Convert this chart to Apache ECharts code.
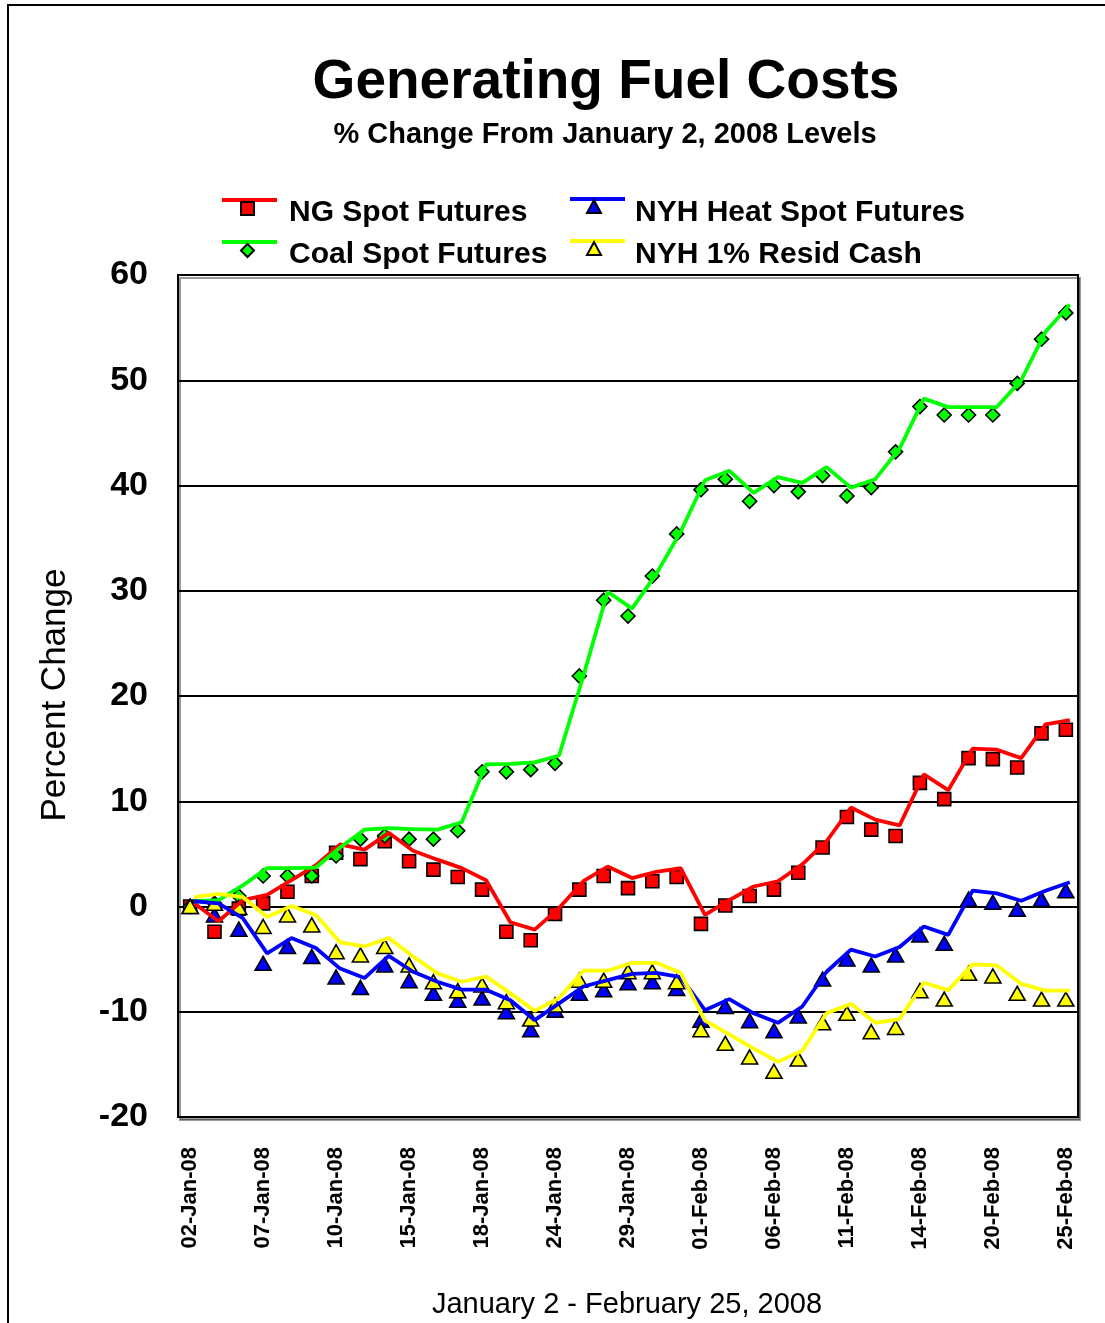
<!DOCTYPE html>
<html>
<head>
<meta charset="utf-8">
<title>Generating Fuel Costs</title>
<script src="https://cdn.jsdelivr.net/npm/echarts@6/dist/echarts.min.js"></script>
<style>
html, body { margin: 0; padding: 0; background: #fff; }
#chart { width: 1105px; height: 1323px; }
</style>
</head>
<body>
<div id="chart"></div>
<script>
// trading days, 02-Jan-08 .. 25-Feb-08
var days = ['02-Jan-08','03-Jan-08','04-Jan-08','07-Jan-08','08-Jan-08','09-Jan-08','10-Jan-08','11-Jan-08',
    '14-Jan-08','15-Jan-08','16-Jan-08','17-Jan-08','18-Jan-08','22-Jan-08','23-Jan-08','24-Jan-08','25-Jan-08',
    '28-Jan-08','29-Jan-08','30-Jan-08','31-Jan-08','01-Feb-08','04-Feb-08','05-Feb-08','06-Feb-08','07-Feb-08',
    '08-Feb-08','11-Feb-08','12-Feb-08','13-Feb-08','14-Feb-08','15-Feb-08','19-Feb-08','20-Feb-08','21-Feb-08',
    '22-Feb-08','25-Feb-08'];

// % change, markers
var ngPoints = [0, -2.4, -0.2, 0.3, 1.4, 2.9, 5.1, 4.5, 6.2, 4.3, 3.5, 2.8, 1.6, -2.4, -3.2, -0.7, 1.6, 2.9, 1.75, 2.4,
    2.8, -1.65, 0.1, 1.0, 1.6, 3.2, 5.6, 8.5, 7.3, 6.7, 11.75, 10.2, 14.1, 14.0, 13.2, 16.45, 16.8];
var coalPoints = [0, 0.3, 1.0, 2.9, 2.9, 2.9, 4.8, 6.4, 6.7, 6.4, 6.4, 7.2, 12.8, 12.8, 13.0, 13.6, 21.9, 29.1, 27.6, 31.4,
    35.4, 39.6, 40.6, 38.5, 40.0, 39.4, 40.95, 39.0, 39.8, 43.2, 47.5, 46.7, 46.7, 46.7, 49.7, 53.9, 56.4];
var heatPoints = [0, -0.8, -2.15, -5.4, -3.8, -4.75, -6.7, -7.7, -5.55, -7.05, -8.25, -8.9, -8.7, -10.0, -11.7, -9.85, -8.25,
    -7.9, -7.25, -7.15, -7.8, -10.8, -9.5, -10.85, -11.8, -10.4, -6.9, -5.0, -5.55, -4.6, -2.7, -3.5, 0.7, 0.4, -0.25, 0.7, 1.5];
var residPoints = [0, 0.3, -0.1, -1.9, -0.8, -1.75, -4.3, -4.6, -3.8, -5.55, -7.15, -8.0, -7.45, -9.05, -10.7, -9.35, -7.0,
    -7.0, -6.2, -6.2, -7.15, -11.7, -13.0, -14.3, -15.65, -14.5, -11.05, -10.15, -11.9, -11.5, -8.0, -8.8, -6.35, -6.6, -8.25, -8.8, -8.8];

// % change, lines
var ngLine = [0.3, -1.4, 0.6, 1.1, 2.5, 3.9, 5.9, 5.4, 7.0, 5.3, 4.45, 3.65, 2.5, -1.5, -2.2, -0.15, 2.4, 3.8, 2.7, 3.3,
    3.65, -0.8, 0.6, 1.9, 2.4, 4.0, 6.2, 9.4, 8.25, 7.7, 12.55, 11.05, 15.0, 14.9, 14.1, 17.3, 17.7];
var coalLine = [0.5, 0.6, 2.0, 3.65, 3.65, 3.7, 5.6, 7.3, 7.45, 7.35, 7.3, 8.0, 13.5, 13.55, 13.7, 14.35, 21.9, 29.9, 28.3, 31.6,
    35.6, 40.5, 41.4, 39.3, 40.8, 40.25, 41.75, 39.8, 40.6, 43.5, 48.25, 47.45, 47.45, 47.45, 50.0, 54.6, 57.2];
var heatLine = [0.5, 0.3, -1.1, -4.45, -3.0, -3.95, -5.9, -6.8, -4.7, -6.2, -7.15, -7.9, -7.9, -8.9, -10.8, -9.2, -7.6, -7.0,
    -6.4, -6.3, -6.7, -9.85, -8.8, -10.15, -11.05, -9.5, -6.2, -4.1, -4.75, -3.85, -1.9, -2.7, 1.5, 1.25, 0.55, 1.5, 2.3];
var residLine = [0.9, 1.2, 0.9, -1.0, 0.05, -0.8, -3.4, -3.8, -3.0, -4.75, -6.35, -7.15, -6.65, -8.25, -9.9, -8.7, -6.1, -6.1,
    -5.35, -5.35, -6.3, -10.85, -12.15, -13.5, -14.75, -13.7, -10.15, -9.25, -11.05, -10.7, -7.25, -7.95, -5.5, -5.6, -7.35, -8.0, -8.0];

var seriesNames = ['NG Spot Futures', 'Coal Spot Futures', 'NYH Heat Spot Futures', 'NYH 1% Resid Cash'];
var seriesColors = ['#ff0000', '#00ff00', '#0000ff', '#ffff00'];

var FONT = '"Liberation Sans", Arial, Helvetica, sans-serif';

var chartDom = document.getElementById('chart');
var myChart = echarts.init(chartDom); // 初始化

function lineSeries(name, color, data) {
    return {
        type: 'line', name: name, xAxisIndex: 1, yAxisIndex: 1, data: data,
        symbol: 'none', lineStyle: { color: color, width: 3.8 }, itemStyle: { color: color },
        animation: false
    };
}
function markSeries(name, color, symbol, size, data) {
    return {
        type: 'scatter', name: name, data: data, symbol: symbol, symbolSize: size,
        itemStyle: { color: color, borderColor: '#000', borderWidth: 1.6, opacity: 1 },
        animation: false
    };
}
// legend pieces: the original puts the line above, the marker below and the text lower right,
// so each piece is its own small legend
function iconLegend(name, left, top, w, h, icon) {
    var l = {
        data: [name], left: left, top: top, padding: 0, itemWidth: w, itemHeight: h, selectedMode: false,
        formatter: function () { return ''; },
        textStyle: { fontSize: 4 }
    };
    if (icon) l.icon = icon;
    return l;
}
function textLegend(name, left, top) {
    return {
        data: [name], left: left, top: top, padding: 0, icon: 'rect', itemWidth: 1, itemHeight: 1,
        itemStyle: { opacity: 0 }, selectedMode: false,
        textStyle: { fontFamily: FONT, fontSize: 30, fontWeight: 'bold', color: '#000' }
    };
}

var option = {
    backgroundColor: '#fff',
    animation: false,
    graphic: [
        { type: 'rect', shape: { x: 8, y: 5, width: 1200, height: 1400 }, style: { fill: 'none', stroke: '#000', lineWidth: 2 } },
        { type: 'text', x: 606, y: 83, style: { text: 'Generating Fuel Costs', font: 'bold 55px ' + FONT, fill: '#000', align: 'center', verticalAlign: 'middle', textAlign: 'center', textVerticalAlign: 'middle' } },
        { type: 'text', x: 605, y: 135, style: { text: '% Change From January 2, 2008 Levels', font: 'bold 29px ' + FONT, fill: '#000', align: 'center', verticalAlign: 'middle', textAlign: 'center', textVerticalAlign: 'middle' } },
        { type: 'text', x: 55, y: 695, rotation: Math.PI / 2, style: { text: 'Percent Change', font: '35px ' + FONT, fill: '#000', align: 'center', verticalAlign: 'middle', textAlign: 'center', textVerticalAlign: 'middle' } },
        { type: 'text', x: 627, y: 1305, style: { text: 'January 2 - February 25, 2008', font: '29px ' + FONT, fill: '#000', align: 'center', verticalAlign: 'middle', textAlign: 'center', textVerticalAlign: 'middle' } }
    ],
    legend: [
        iconLegend(seriesNames[0], 222, 198, 55, 4, 'rect'),
        iconLegend(seriesNames[1], 222, 240, 55, 4, 'rect'),
        iconLegend(seriesNames[2], 570, 197, 55, 4, 'rect'),
        iconLegend(seriesNames[3], 570, 239, 55, 4, 'rect'),
        iconLegend('ngMarks', 240, 201, 13, 13),
        iconLegend('coalMarks', 240, 243, 13, 13),
        iconLegend('heatMarks', 586, 199, 14, 13),
        iconLegend('residMarks', 586, 241, 14, 13),
        textLegend(seriesNames[0], 283, 198),
        textLegend(seriesNames[1], 283, 240),
        textLegend(seriesNames[2], 629, 198),
        textLegend(seriesNames[3], 629, 240)
    ],
    grid: [
        { left: 178, top: 275, width: 900, height: 842, show: true, borderColor: '#000', borderWidth: 2,
          backgroundColor: '#fff', shadowColor: 'rgba(0,0,0,0.4)', shadowOffsetX: 2, shadowOffsetY: 3 },
        { left: 182, top: 275, width: 900, height: 842, show: false }
    ],
    xAxis: [
        {
            type: 'category', gridIndex: 0, data: days, boundaryGap: true,
            axisLine: { lineStyle: { color: '#000', width: 2 } },
            axisTick: { show: false },
            axisLabel: { interval: 2, rotate: 90, margin: 30, color: '#000', fontFamily: FONT, fontSize: 22, fontWeight: 'bold' }
        },
        { type: 'category', gridIndex: 1, data: days, boundaryGap: true, show: false }
    ],
    yAxis: [
        {
            type: 'value', gridIndex: 0, min: -20, max: 60, interval: 10,
            axisLine: { show: true, lineStyle: { color: '#000', width: 2 } },
            axisTick: { show: false },
            splitLine: { lineStyle: { color: '#000', width: 2 } },
            axisLabel: { margin: 30, color: '#000', fontFamily: FONT, fontSize: 34, fontWeight: 'bold' }
        },
        { type: 'value', gridIndex: 1, min: -20, max: 60, interval: 10, show: false, splitLine: { show: false } }
    ],
    series: [
        lineSeries(seriesNames[0], seriesColors[0], ngLine),
        lineSeries(seriesNames[1], seriesColors[1], coalLine),
        lineSeries(seriesNames[2], seriesColors[2], heatLine),
        lineSeries(seriesNames[3], seriesColors[3], residLine),
        markSeries('ngMarks', seriesColors[0], 'rect', 13, ngPoints),
        markSeries('coalMarks', seriesColors[1], 'diamond', 14, coalPoints),
        markSeries('heatMarks', seriesColors[2], 'triangle', [16, 14], heatPoints),
        markSeries('residMarks', seriesColors[3], 'triangle', [16, 14], residPoints)
    ]
};

myChart.setOption(option);

window.onresize = function () {
    myChart.resize();
};
</script>
</body>
</html>
